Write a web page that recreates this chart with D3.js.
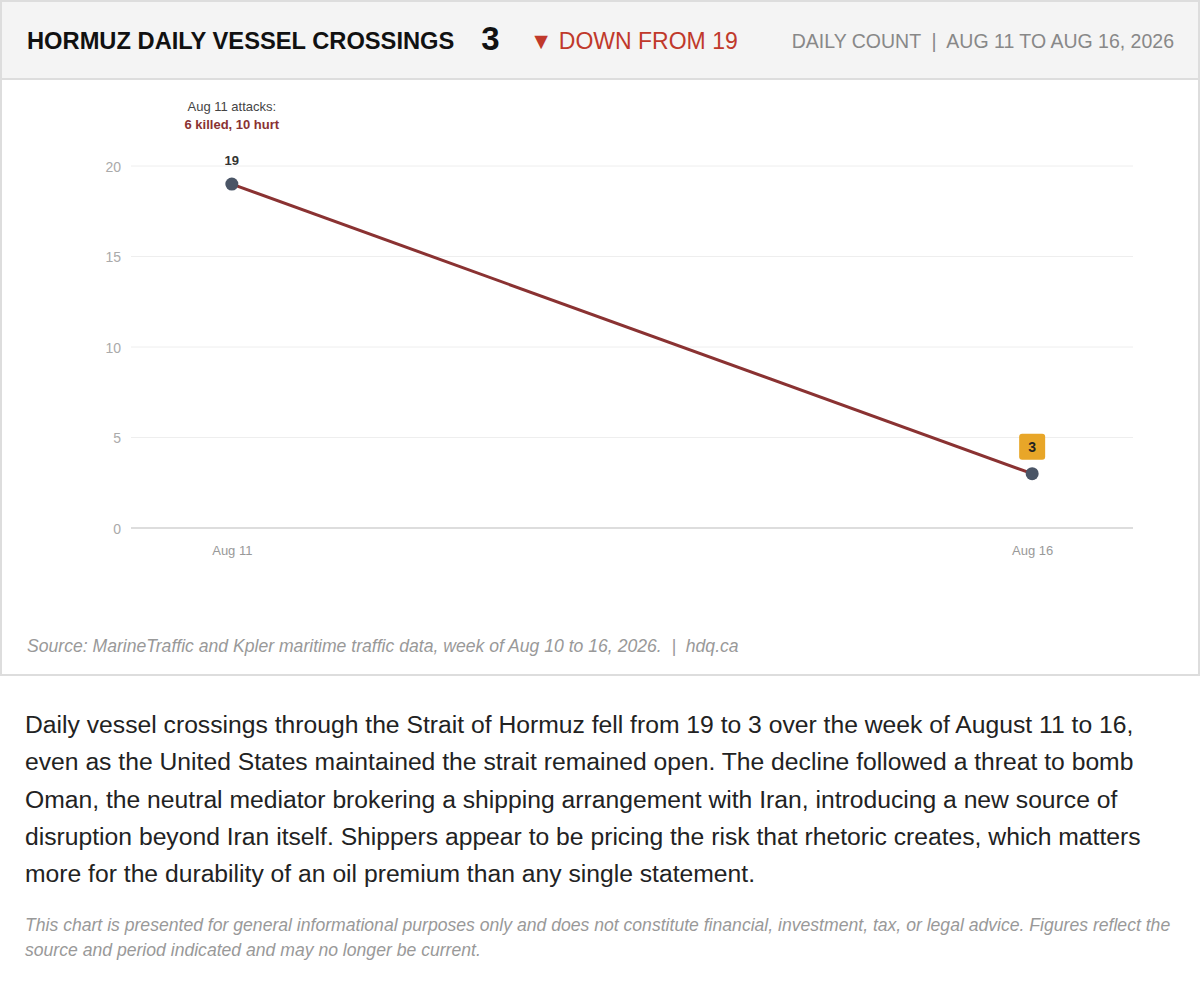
<!DOCTYPE html>
<html>
<head>
<meta charset="utf-8">
<script src="https://cdn.jsdelivr.net/npm/d3@7"></script>
<style>
  body { margin: 0; font-family: "Liberation Sans", Arial, sans-serif; background: #fff; }
  .card { position: relative; width: 1200px; height: 676px; box-sizing: border-box; border: 2px solid #ddd; }
  .head { background: #f4f4f4; border-bottom: 2px solid #ddd; display: flex; align-items: center; padding: 3px 24px 0 25px; box-sizing: border-box; height: 78px; }
  .title { font-size: 23.7px; font-weight: bold; color: #111; }
  .big { font-size: 33px; font-weight: bold; color: #111; margin-left: 27px; margin-top: -5px; }
  .down { font-size: 23px; color: #c0392b; margin-left: 30px; }
  .meta { font-size: 19.5px; color: #888; margin-left: auto; }
  svg { position: absolute; left: -2px; top: -2px; }
  .source { position: absolute; left: 25px; top: 634px; font-size: 17.6px; font-style: italic; color: #999; }
  .text { margin: 30px 25px 0 25px; font-size: 24.7px; line-height: 37.3px; color: #222; }
  .note { margin: 21px 25px 0 25px; font-size: 17.6px; line-height: 25px; font-style: italic; color: #999; }
</style>
</head>
<body>
<div class="card" id="card">
  <div class="head">
    <span class="title">HORMUZ DAILY VESSEL CROSSINGS</span>
    <span class="big">3</span>
    <span class="down">&#9660; DOWN FROM 19</span>
    <span class="meta">DAILY COUNT &nbsp;|&nbsp; AUG 11 TO AUG 16, 2026</span>
  </div>
  <div class="source">Source: MarineTraffic and Kpler maritime traffic data, week of Aug 10 to 16, 2026. &nbsp;|&nbsp; hdq.ca</div>
</div>
<div class="text">Daily vessel crossings through the Strait of Hormuz fell from 19 to 3 over the week of August 11 to 16, even as the United States maintained the strait remained open. The decline followed a threat to bomb Oman, the neutral mediator brokering a shipping arrangement with Iran, introducing a new source of disruption beyond Iran itself. Shippers appear to be pricing the risk that rhetoric creates, which matters more for the durability of an oil premium than any single statement.</div>
<div class="note">This chart is presented for general informational purposes only and does not constitute financial, investment, tax, or legal advice. Figures reflect the source and period indicated and may no longer be current.</div>

<script>
// data
const days = ['Aug 11', 'Aug 16'];
const crossings = [19, 3];
const yTicks = [0, 5, 10, 15, 20];

const data = days.map((d, i) => ({ day: d, value: crossings[i] }));

const svg = d3.select('#card').append('svg')
  .attr('width', 1200)
  .attr('height', 676);

const x = d3.scalePoint()
  .domain(days)
  .range([131, 1133])
  .padding(0.126);

const y = d3.scaleLinear()
  .domain([0, 20])
  .range([528, 166]);

// grid lines
svg.append('g')
  .selectAll('line')
  .data(yTicks)
  .enter().append('line')
  .attr('x1', 131)
  .attr('x2', 1133)
  .attr('y1', d => y(d))
  .attr('y2', d => y(d))
  .attr('stroke', d => d === 0 ? '#ddd' : '#eee')
  .attr('stroke-width', d => d === 0 ? 2 : 1);

// y axis
const yAxis = svg.append('g')
  .attr('transform', 'translate(121,1)')
  .call(d3.axisLeft(y).tickValues(yTicks).tickSize(0).tickPadding(0));
yAxis.select('.domain').remove();
yAxis.selectAll('text')
  .attr('fill', '#aaa')
  .style('font-size', '14px')
  .style('font-family', '"Liberation Sans", Arial, sans-serif');

// x axis
const xAxis = svg.append('g')
  .attr('transform', 'translate(0,546)')
  .call(d3.axisBottom(x).tickSize(0).tickPadding(0));
xAxis.select('.domain').remove();
xAxis.selectAll('text')
  .attr('fill', '#999')
  .style('font-size', '13px')
  .style('font-family', '"Liberation Sans", Arial, sans-serif');

// line
const line = d3.line()
  .x(d => x(d.day))
  .y(d => y(d.value));

svg.append('path')
  .datum(data)
  .attr('d', line)
  .attr('fill', 'none')
  .attr('stroke', '#8a3232')
  .attr('stroke-width', 3);

// points
svg.selectAll('circle.pt')
  .data(data)
  .enter().append('circle')
  .attr('class', 'pt')
  .attr('cx', d => x(d.day))
  .attr('cy', d => y(d.value))
  .attr('r', 6.5)
  .attr('fill', '#4a5566');

// first point label
const first = data[0];
svg.append('text')
  .attr('x', x(first.day))
  .attr('y', y(first.value) - 19)
  .attr('text-anchor', 'middle')
  .attr('font-size', 13)
  .attr('font-weight', 'bold')
  .attr('fill', '#333')
  .text(first.value);

// annotation
svg.append('text')
  .attr('x', x(first.day))
  .attr('y', 111)
  .attr('text-anchor', 'middle')
  .attr('font-size', 13)
  .attr('fill', '#444')
  .text('Aug 11 attacks:');
svg.append('text')
  .attr('x', x(first.day))
  .attr('y', 129)
  .attr('text-anchor', 'middle')
  .attr('font-size', 13)
  .attr('font-weight', 'bold')
  .attr('fill', '#8a3232')
  .text('6 killed, 10 hurt');

// last point badge
const last = data[data.length - 1];
svg.append('rect')
  .attr('x', x(last.day) - 13)
  .attr('y', y(last.value) - 40)
  .attr('width', 26)
  .attr('height', 26)
  .attr('rx', 3)
  .attr('fill', '#e8a628');
svg.append('text')
  .attr('x', x(last.day))
  .attr('y', y(last.value) - 22)
  .attr('text-anchor', 'middle')
  .attr('font-size', 14)
  .attr('font-weight', 'bold')
  .attr('fill', '#222')
  .text(last.value);

svg.selectAll('text').style('font-family', '"Liberation Sans", Arial, sans-serif');
</script>
</body>
</html>
